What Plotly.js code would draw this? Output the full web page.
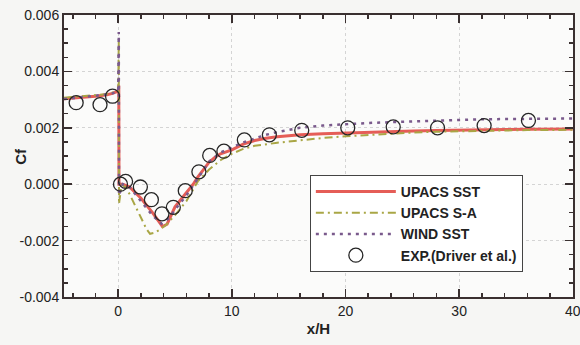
<!DOCTYPE html>
<html>
<head>
<meta charset="utf-8">
<script src="https://cdn.plot.ly/plotly-3.0.1.min.js"></script>
<style>html,body{margin:0;padding:0;background:#f6f6f4;}#chart{width:580px;height:345px;}</style>
</head>
<body>
<div id="chart"></div>
<script>
// UPACS SST
const sstX = [-4.77,-4,-3,-2,-1,-0.5,0,0.05,0.07,0.4,1,2,3,3.5,3.9,4.3,5,5.5,6,6.6,7,7.5,8,8.5,9,10,11,12,13,14,15,16,18,20,22,24,26,28,30,32,34,36,38,40];
const sstY = [0.00303,0.00305,0.00308,0.00312,0.00317,0.00322,0.0033,0.0035,0.0,0.0,-0.0001,-0.0005,-0.001,-0.0013,-0.0015,-0.00142,-0.0008,-0.00055,-0.0003,0.0,0.00025,0.0005,0.00078,0.00095,0.00108,0.00122,0.00142,0.00155,0.00163,0.00168,0.00172,0.00175,0.00179,0.00182,0.00185,0.00187,0.00189,0.0019,0.00192,0.00193,0.00194,0.00195,0.00195,0.00196];
// UPACS S-A
const saX = [-4.77,-4,-3,-2,-1,-0.5,0,0.05,0.07,0.3,0.6,1,1.5,2,2.5,2.8,3.2,3.7,4.2,5,6,7,8,9,10,11,12,14,16,18,20,22,24,26,28,30,32,34,36,38,40];
const saY = [0.00307,0.00309,0.00312,0.00316,0.0032,0.00324,0.0033,0.0051,-0.0007,0.0,-0.0001,-0.00035,-0.00075,-0.0012,-0.0016,-0.00176,-0.00172,-0.0016,-0.00145,-0.0011,-0.0006,0.0001,0.00052,0.00085,0.00108,0.00125,0.00136,0.00147,0.00156,0.00164,0.0017,0.00175,0.00179,0.00183,0.00186,0.00188,0.0019,0.00191,0.00192,0.00192,0.00193];
// WIND SST
const windX = [-4.77,-4,-3,-2,-1,-0.5,0,0.05,0.07,0.4,1,2,3,3.8,4.5,5,6,7,8,9,10,11,12,13,14,16,18,20,22,24,26,28,30,32,34,36,38,40];
const windY = [0.00302,0.00305,0.00309,0.00313,0.00318,0.00322,0.0033,0.0054,-0.0004,0.0,-0.0001,-0.0006,-0.0011,-0.0014,-0.0012,-0.0009,-0.0004,0.0002,0.0008,0.00112,0.0013,0.00148,0.00162,0.00175,0.00185,0.002,0.00208,0.00213,0.00217,0.0022,0.00223,0.00226,0.00228,0.0023,0.00231,0.00232,0.00233,0.00233];
// EXP (Driver et al.)
const expX = [-3.7,-1.6,-0.5,0.2,0.65,1.95,2.92,3.85,4.85,5.9,7.1,8.05,9.3,11.1,13.3,16.15,20.2,24.2,28.1,32.2,36.1];
const expY = [0.00289,0.00282,0.00312,0.0,0.0001,-0.0001,-0.00055,-0.00105,-0.00082,-0.00023,0.00044,0.00102,0.00117,0.00157,0.00175,0.00191,0.002,0.00203,0.002,0.00208,0.00226];

const seriesNames = ['UPACS SST','UPACS S-A','WIND SST','EXP.(Driver et al.)'];
const xTickVals = [0,10,20,30,40];
const yTickVals = [-0.004,-0.002,0.000,0.002,0.004,0.006];
const xTitle = 'x/H';
const yTitle = 'Cf';

const FONT = 'Liberation Sans, Arial, Helvetica, sans-serif';

const traces = [
  {x: sstX, y: sstY, name: seriesNames[0], mode: 'lines', line: {color: '#e55d57', width: 3}},
  {x: saX, y: saY, name: seriesNames[1], mode: 'lines', line: {color: '#a9a645', width: 2, dash: '8px,4px,2px,4px'}},
  {x: windX, y: windY, name: seriesNames[2], mode: 'lines', line: {color: '#7a5a8c', width: 2.5, dash: '3px,5px'}},
  {x: expX, y: expY, name: seriesNames[3], mode: 'markers', marker: {symbol: 'circle-open', size: 14, color: '#262626', line: {width: 1.3, color: '#262626'}}}
];

const axisCommon = {
  showline: true, linecolor: '#3a3030', linewidth: 2, mirror: 'ticks',
  ticks: 'inside', ticklen: 8, tickwidth: 1.5, tickcolor: '#3a3030',
  showgrid: true, gridcolor: '#d4d4d4', griddash: 'dot', gridwidth: 1,
  zeroline: false, ticklabeloverflow: 'allow',
  tickfont: {family: FONT, size: 14, color: '#222'}
};

const layout = {
  width: 580, height: 345,
  margin: {l: 64, r: 7, t: 15, b: 48},
  paper_bgcolor: '#f6f6f4', plot_bgcolor: '#fbfbfa',
  showlegend: true,
  xaxis: Object.assign({}, axisCommon, {
    range: [-4.77, 40.02], tickmode: 'array', tickvals: xTickVals, ticktext: xTickVals.map(String),
    minor: {dtick: 2, tick0: 0, ticks: 'inside', ticklen: 4, tickcolor: '#3a3030', showgrid: false},
    title: {text: '<b>' + xTitle + '</b>', font: {family: FONT, size: 15, color: '#222'}, standoff: 6}
  }),
  yaxis: Object.assign({}, axisCommon, {
    range: [-0.004, 0.006], tickmode: 'array', tickvals: yTickVals, ticktext: yTickVals.map(v => v.toFixed(3)),
    minor: {dtick: 0.0005, tick0: 0, ticks: 'inside', ticklen: 4, tickcolor: '#3a3030', showgrid: false}
  }),
  annotations: [{
    text: '<b>' + yTitle + '</b>', xref: 'paper', yref: 'paper', x: -0.087, y: 0.5,
    xanchor: 'center', yanchor: 'middle', textangle: -90, showarrow: false,
    font: {family: FONT, size: 15, color: '#222'}
  }],
  legend: {
    x: 0.483, y: 0.4326, xanchor: 'left', yanchor: 'top',
    bgcolor: '#ffffff', bordercolor: '#444', borderwidth: 1,
    font: {family: FONT, size: 14, color: '#222', weight: 'bold'},
    itemwidth: 80, tracegroupgap: 0
  }
};

Plotly.newPlot('chart', traces, layout, {displayModeBar: false, staticPlot: true});
</script>
</body>
</html>
